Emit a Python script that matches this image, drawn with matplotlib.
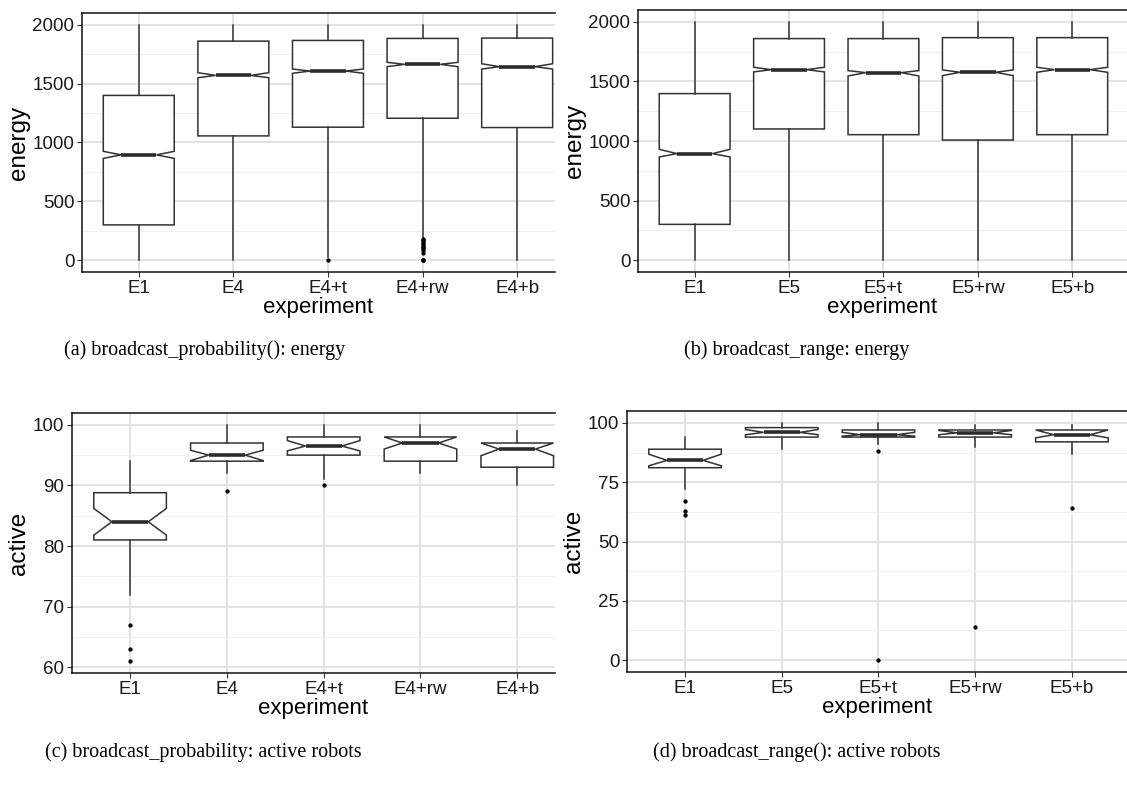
import matplotlib
matplotlib.use('Agg')
from matplotlib import pyplot as plt
from matplotlib.ticker import MultipleLocator

W, H = 1127, 785

# (a) broadcast_probability(): energy
cats_a = ['E1', 'E4', 'E4+t', 'E4+rw', 'E4+b']
med_a = [895, 1570, 1607, 1664, 1644]
q1_a = [300, 1056, 1130, 1206, 1127]
q3_a = [1400, 1861, 1867, 1884, 1887]
wlo_a = [0, 0, 25, 190, 0]
whi_a = [2000, 2000, 2000, 2000, 2000]
clo_a = [865, 1550, 1588, 1644, 1624]
chi_a = [925, 1593, 1624, 1681, 1669]
out_a = [[], [], [0], [0, 0, 5, 60, 90, 100, 110, 120, 135, 150, 160, 170, 180], []]

# (b) broadcast_range: energy
cats_b = ['E1', 'E5', 'E5+t', 'E5+rw', 'E5+b']
med_b = [894, 1599, 1574, 1577, 1599]
q1_b = [300, 1101, 1053, 1008, 1053]
q3_b = [1398, 1860, 1860, 1868, 1868]
wlo_b = [0, 0, 0, 0, 0]
whi_b = [2000, 2000, 2000, 2000, 2000]
clo_b = [866, 1580, 1546, 1549, 1577]
chi_b = [930, 1619, 1591, 1597, 1619]
out_b = [[], [], [], [], []]

# (c) broadcast_probability: active robots
cats_c = ['E1', 'E4', 'E4+t', 'E4+rw', 'E4+b']
med_c = [84, 95, 96.5, 97, 96]
q1_c = [81, 94, 95, 94, 93]
q3_c = [88.8, 97, 98, 98, 97]
wlo_c = [72, 92, 91, 92, 90]
whi_c = [94, 100, 100, 100, 99]
clo_c = [81.8, 94.1, 95.7, 96, 94.9]
chi_c = [86.2, 95.8, 97.4, 98, 97]
out_c = [[67, 63, 61], [89], [90], [], []]

# (d) broadcast_range(): active robots
cats_d = ['E1', 'E5', 'E5+t', 'E5+rw', 'E5+b']
med_d = [84.2, 96, 95, 95.8, 95]
q1_d = [81.1, 94, 94, 94, 92]
q3_d = [88.9, 98, 97, 97, 97]
wlo_d = [72, 89, 91, 90, 87]
whi_d = [94, 100, 100, 99, 99]
clo_d = [81.9, 95, 94.4, 95, 93.7]
chi_d = [86.8, 97.2, 96, 96.8, 97]
out_d = [[67, 63, 61], [], [88, 0], [14], [64]]

captions = ['(a) broadcast_probability(): energy', '(b) broadcast_range: energy',
            '(c) broadcast_probability: active robots', '(d) broadcast_range(): active robots']

plt.rcParams['font.family'] = ['Liberation Sans', 'DejaVu Sans']

fig = plt.figure(figsize=(W / 100, H / 100), dpi=100)


def panel(rect, cats, med, q1, q3, wlo, whi, clo, chi, out, ylim, step, ylabel, xmax):
    left, top, right, bottom = rect
    ax = fig.add_axes([left / W, 1 - bottom / H, (right - left) / W, (bottom - top) / H])
    stats = []
    for i in range(len(cats)):
        stats.append(dict(med=med[i], q1=q1[i], q3=q3[i], whislo=wlo[i], whishi=whi[i],
                          cilo=clo[i], cihi=chi[i], fliers=out[i], label=cats[i]))
    ax.bxp(stats, positions=range(1, len(cats) + 1), widths=0.75, shownotches=True,
           showcaps=False, patch_artist=True,
           boxprops=dict(facecolor='white', edgecolor='#333333', linewidth=1.1),
           medianprops=dict(color='#2b2b2b', linewidth=2.6, solid_capstyle='butt'),
           whiskerprops=dict(color='#333333', linewidth=1.1),
           flierprops=dict(marker='o', markersize=2.1, markerfacecolor='black',
                           markeredgecolor='black', linestyle='none'))
    ax.set_xlim(0.4, xmax)
    ax.set_ylim(*ylim)
    ax.yaxis.set_major_locator(MultipleLocator(step))
    ax.yaxis.set_minor_locator(MultipleLocator(step / 2))
    ax.set_axisbelow(True)
    ax.grid(True, which='major', color='#e3e3e3', linewidth=1.4)
    ax.grid(True, which='minor', axis='y', color='#f0f0f0', linewidth=0.8)
    ax.tick_params(which='major', length=3.5, width=0.8, color='#333333',
                   labelsize=13.5, labelcolor='#1a1a1a', pad=2)
    ax.tick_params(which='minor', length=0)
    ax.spines['right'].set_visible(False)
    for s in ['top', 'left', 'bottom']:
        ax.spines[s].set_color('#111111')
        ax.spines[s].set_linewidth(1.1)
    ax.set_ylabel(ylabel, fontsize=17.5, labelpad=2)
    ax.set_xlabel('experiment', fontsize=16, labelpad=0)
    return ax


panel((82, 13, 555, 272), cats_a, med_a, q1_a, q3_a, wlo_a, whi_a, clo_a, chi_a, out_a,
      (-100, 2100), 500, 'energy', 5.4)
panel((638, 10, 1127, 272), cats_b, med_b, q1_b, q3_b, wlo_b, whi_b, clo_b, chi_b, out_b,
      (-100, 2100), 500, 'energy', 5.58)
panel((72, 413, 555, 673), cats_c, med_c, q1_c, q3_c, wlo_c, whi_c, clo_c, chi_c, out_c,
      (59.05, 101.95), 10, 'active', 5.39)
panel((627, 411, 1127, 672), cats_d, med_d, q1_d, q3_d, wlo_d, whi_d, clo_d, chi_d, out_d,
      (-5, 105), 25, 'active', 5.57)

cap_pos = [(205, 350), (797, 350), (203, 752), (797, 752)]
for (x, y), txt in zip(cap_pos, captions):
    fig.text(x / W, 1 - y / H, txt, ha='center', va='center', fontsize=14.5,
             family=['Liberation Serif', 'DejaVu Serif'])

fig.savefig('out.png', dpi=100)
